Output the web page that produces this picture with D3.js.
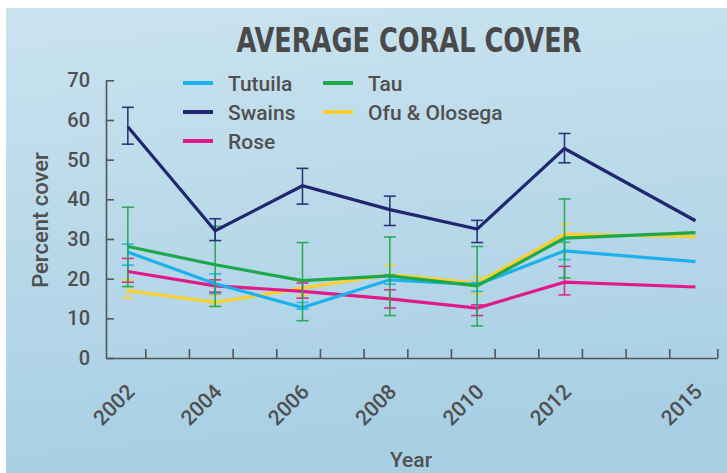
<!DOCTYPE html>
<html><head><meta charset="utf-8">
<script src="https://cdn.jsdelivr.net/npm/d3@7"></script>
<style>
html,body{margin:0;padding:0;background:#fff;}
svg{display:block;}
text{font-family:Roboto,"Noto Sans",sans-serif;fill:#505050;font-weight:500;}
</style></head>
<body>
<svg id="chart" width="727" height="473"></svg>
<script>
const titleText = "AVERAGE CORAL COVER";
const xTitle = "Year";
const yTitle = "Percent cover";
const years = [2002, 2004, 2006, 2008, 2010, 2012, 2015];
const yearLabels = ["2002", "2004", "2006", "2008", "2010", "2012", "2015"];
const yTicks = [0, 10, 20, 30, 40, 50, 60, 70];
const xTickMarks = [2002.4, 2003.4, 2004.4, 2005.4, 2006.4, 2007.4, 2008.4, 2009.4, 2010.4, 2011.4, 2012.4, 2013.4, 2014.4, 2015.5];

const seriesNames = ["Tutuila", "Swains", "Rose", "Tau", "Ofu & Olosega"];
const seriesColors = ["#1cb1eb", "#21266f", "#e3198a", "#1ca84b", "#fbcf2f"];

const tutuila     = [26.7, 18.7, 12.7, 19.7, 18.5, 27.0, 24.3];
const tutuilaLow  = [23.4, 16.2, 12.3, 18.6, 16.8, 24.8, null];
const tutuilaHigh = [28.7, 21.2, 14.0, 21.0, 19.0, 29.2, null];

const swains      = [58.3, 32.1, 43.4, 37.4, 32.5, 52.8, 34.6];
const swainsLow   = [53.9, 29.6, 38.8, 33.4, 29.1, 49.2, null];
const swainsHigh  = [63.2, 35.1, 47.8, 40.8, 34.7, 56.6, null];

const rose        = [21.8, 18.2, 16.8, 14.9, 12.6, 19.1, 17.9];
const roseLow     = [19.1, 16.6, 15.1, 12.6, 10.7, 15.9, null];
const roseHigh    = [25.1, 19.7, 18.9, 17.2, 13.4, 23.1, null];

const tau         = [28.1, 23.5, 19.5, 20.7, 18.2, 30.2, 31.6];
const tauLow      = [18.0, 13.0, 9.4, 10.7, 8.1, 20.2, null];
const tauHigh     = [38.0, 33.2, 29.1, 30.5, 28.1, 40.1, null];

const ofu         = [17.0, 14.0, 17.6, 21.0, 18.9, 31.2, 30.6];
const ofuLow      = [15.1, 13.0, 15.8, 18.6, 16.1, 29.0, null];
const ofuHigh     = [19.7, 15.8, 19.4, 23.4, 20.4, 33.8, null];

const seriesValues = [tutuila, swains, rose, tau, ofu];
const seriesLow = [tutuilaLow, swainsLow, roseLow, tauLow, ofuLow];
const seriesHigh = [tutuilaHigh, swainsHigh, roseHigh, tauHigh, ofuHigh];
const drawOrder = [4, 2, 0, 3, 1];

const svg = d3.select("#chart");
const W = 727, H = 473;

// background
const defs = svg.append("defs");
const grad = defs.append("linearGradient").attr("id","bg").attr("x1",0).attr("y1",0).attr("x2",0.15).attr("y2",1);
grad.append("stop").attr("offset","0%").attr("stop-color","#cae3ef");
grad.append("stop").attr("offset","100%").attr("stop-color","#a8cfe4");
svg.append("rect").attr("x",6).attr("y",8).attr("width",W-6).attr("height",H-8).attr("fill","url(#bg)");

const x = d3.scaleLinear().domain([2001.5, 2015.5]).range([106, 717.3]);
const y = d3.scaleLinear().domain([0, 70]).range([358, 80.3]);

// title
svg.append("text").attr("x", 409).attr("y", 52)
  .attr("text-anchor","middle")
  .attr("textLength", 345).attr("lengthAdjust","spacingAndGlyphs")
  .style("font-family","'Liberation Sans Narrow','DejaVu Sans Condensed',sans-serif")
  .style("font-stretch","condensed")
  .style("font-weight","bold").style("font-size","33px").style("fill","#4a4a4a")
  .text(titleText);

// y axis
const yAxis = svg.append("g").attr("transform","translate(106,0)")
  .call(d3.axisLeft(y).tickValues(yTicks).tickSizeInner(-8).tickSizeOuter(0).tickPadding(16));
yAxis.selectAll("path,line").attr("stroke","#555").attr("stroke-width",1.6);
yAxis.selectAll("text").style("font-size","20px").style("fill","#505050").style("font-family","Roboto").style("font-weight","500");

// x axis
const xAxis = svg.append("g").attr("transform","translate(0,358)")
  .call(d3.axisBottom(x).tickValues(xTickMarks).tickSizeInner(-9).tickSizeOuter(0).tickFormat(""));
xAxis.selectAll("path,line").attr("stroke","#555").attr("stroke-width",1.6);

// x labels
svg.append("g").selectAll("text").data(years).join("text")
  .attr("transform", (d) => `translate(${x(d)+8},393) rotate(-45)`)
  .attr("text-anchor","end")
  .style("font-size","21px")
  .text((d,i) => yearLabels[i]);

// axis titles
svg.append("text").attr("x", 411).attr("y", 467).attr("text-anchor","middle")
  .style("font-size","21px").text(xTitle);
svg.append("text").attr("transform","translate(48,220) rotate(-90)").attr("text-anchor","middle")
  .style("font-size","22px").text(yTitle);

// lines
const line = d3.line().x((d) => x(d.year)).y((d) => y(d.v));
drawOrder.forEach((si) => {
  const pts = years.map((yr,i) => ({year: yr, v: seriesValues[si][i], lo: seriesLow[si][i], hi: seriesHigh[si][i]}));
  const g = svg.append("g");
  const eb = pts.filter((p) => p.lo != null);
  g.selectAll("line.v").data(eb).join("line")
    .attr("x1",(d)=>x(d.year)).attr("x2",(d)=>x(d.year))
    .attr("y1",(d)=>y(d.lo)).attr("y2",(d)=>y(d.hi))
    .attr("stroke",seriesColors[si]).attr("stroke-width",1.6).attr("opacity",0.9);
  ["lo","hi"].forEach((k) => {
    g.selectAll("line."+k).data(eb).join("line")
      .attr("x1",(d)=>x(d.year)-6).attr("x2",(d)=>x(d.year)+6)
      .attr("y1",(d)=>y(d[k])).attr("y2",(d)=>y(d[k]))
      .attr("stroke",seriesColors[si]).attr("stroke-width",1.6).attr("opacity",0.9);
  });
  g.append("path").datum(pts).attr("d", line)
    .attr("fill","none").attr("stroke",seriesColors[si]).attr("stroke-width",3.2)
    .attr("stroke-linejoin","miter");
});

// legend
const legendPos = [[183,83],[183,112],[183,141],[323,83],[323,112]];
const lg = svg.append("g");
seriesNames.forEach((n,i) => {
  const [lx, ly] = legendPos[i];
  lg.append("line").attr("x1",lx).attr("x2",lx+30).attr("y1",ly).attr("y2",ly)
    .attr("stroke",seriesColors[i]).attr("stroke-width",4);
  lg.append("text").attr("x",lx+45).attr("y",ly+7.5).style("font-size","21px").text(n);
});
</script>
</body></html>
